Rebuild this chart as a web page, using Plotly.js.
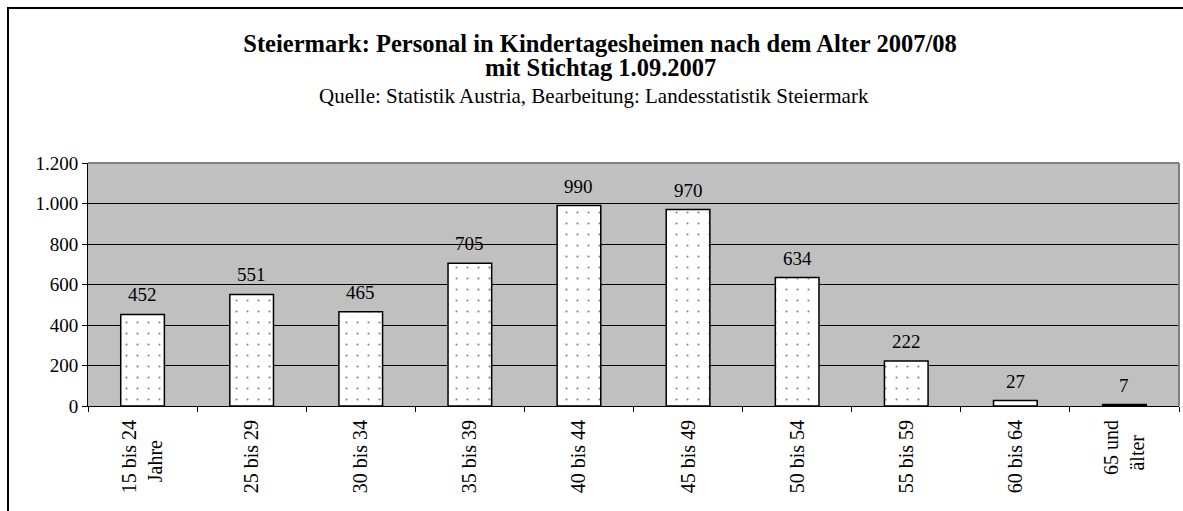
<!DOCTYPE html>
<html>
<head>
<meta charset="utf-8">
<script src="https://cdn.plot.ly/plotly-3.0.1.min.js"></script>
<style>
  html, body { margin: 0; padding: 0; background: #fff; }
  #chart { width: 1183px; height: 511px; }
</style>
</head>
<body>
<div id="chart"></div>
<script>
const categories = ["15 bis 24<br>Jahre\u00a0\u00a0\u00a0\u00a0", "25 bis 29", "30 bis 34", "35 bis 39", "40 bis 44",
                    "45 bis 49", "50 bis 54", "55 bis 59", "60 bis 64", "65 und<br>älter\u00a0\u00a0\u00a0"];
const values = [452, 551, 465, 705, 990, 970, 634, 222, 27, 7];
const yTicks = [0, 200, 400, 600, 800, 1000, 1200];

const titleLine1 = "<b>Steiermark: Personal in Kindertagesheimen nach dem Alter 2007/08</b>";
const titleLine2 = "<b>mit Stichtag 1.09.2007</b>";
const subtitleText = "Quelle: Statistik Austria, Bearbeitung: Landesstatistik Steiermark";

const FONT = "Liberation Serif";

const trace = {
  type: "bar",
  x: categories,
  y: values,
  marker: {
    color: "#ffffff",
    line: { color: "#000000", width: 1.5 },
    pattern: { shape: ".", size: 11, solidity: 0.03, fgcolor: "#000000", bgcolor: "#ffffff", fillmode: "overlay" }
  },
  hoverinfo: "skip"
};

const annotations = categories.map((c, i) => ({
  x: c, y: values[i], xref: "x", yref: "y",
  text: String(values[i]), showarrow: false,
  yanchor: "bottom", yshift: 7,
  font: { family: FONT, size: 19, color: "#000" }
}));
annotations.push({
  xref: "paper", yref: "paper", x: (600 - 88) / 1091, y: 1 + (163 - 68) / 243, xanchor: "center", yanchor: "middle",
  text: titleLine2, showarrow: false,
  font: { family: FONT, size: 24.5, color: "#000" }
});
annotations.push({
  xref: "paper", yref: "paper", x: (594 - 88) / 1091, y: 1 + (163 - 96) / 243, xanchor: "center", yanchor: "middle",
  text: subtitleText, showarrow: false,
  font: { family: FONT, size: 21, color: "#000" }
});

const layout = {
  width: 1183, height: 511,
  margin: { l: 88, r: 4, t: 163, b: 105, pad: 0 },
  paper_bgcolor: "#ffffff",
  plot_bgcolor: "#c0c0c0",
  separators: ",.",
  bargap: 0.6,
  showlegend: false,
  font: { family: FONT, size: 19, color: "#000" },
  title: {
    text: titleLine1,
    font: { family: FONT, size: 24.5, color: "#000" },
    xref: "container", yref: "container",
    x: 600 / 1183, xanchor: "center",
    y: 1 - 43 / 511, yanchor: "middle"
  },
  xaxis: {
    type: "category",
    tickson: "boundaries",
    ticks: "outside", ticklen: 5, tickcolor: "#000", tickwidth: 1,
    tickangle: -90,
    ticklabelstandoff: 5,
    showgrid: false,
    showline: true, linecolor: "#000", linewidth: 1,
    tickfont: { family: FONT, size: 20, color: "#000" },
    fixedrange: true
  },
  yaxis: {
    range: [0, 1200],
    tickvals: yTicks,
    tickformat: ",d",
    ticks: "outside", ticklen: 5, tickcolor: "#000", tickwidth: 1,
    showgrid: true, gridcolor: "#000", gridwidth: 1,
    zeroline: false,
    showline: true, linecolor: "#000", linewidth: 1,
    tickfont: { family: FONT, size: 19, color: "#000" },
    fixedrange: true
  },
  annotations: annotations,
  shapes: [
    { type: "line", xref: "paper", yref: "paper", x0: 0, x1: 1, y0: 1, y1: 1,
      line: { color: "#808080", width: 2 } },
    { type: "line", xref: "paper", yref: "paper", x0: 1, x1: 1, y0: 0, y1: 1,
      line: { color: "#808080", width: 2 } },
    { type: "rect", xref: "paper", yref: "paper",
      x0: (8 - 88) / 1091, x1: (1200 - 88) / 1091,
      y0: -(530 - 406) / 243, y1: 1 + (163 - 8) / 243,
      line: { color: "#000", width: 2 }, fillcolor: "rgba(0,0,0,0)", layer: "above" }
  ]
};

Plotly.newPlot("chart", [trace], layout, { displayModeBar: false, staticPlot: true });
</script>
</body>
</html>
